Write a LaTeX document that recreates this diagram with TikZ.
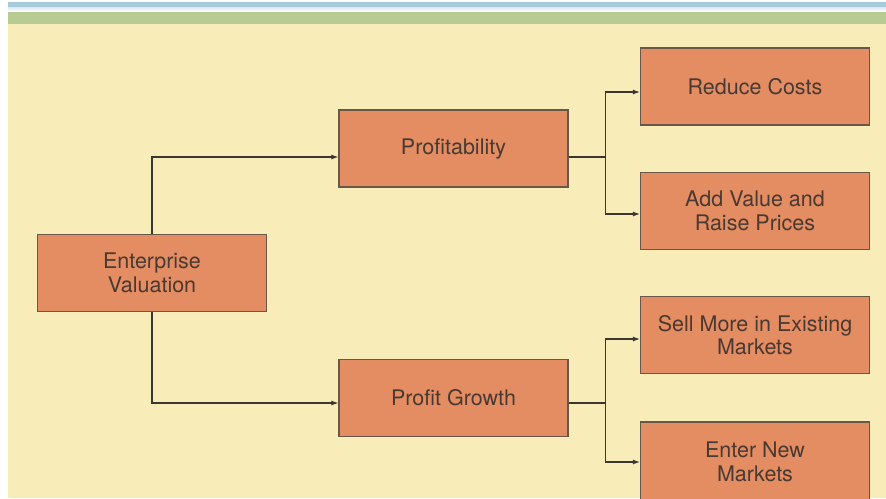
\documentclass[tikz,border=0pt]{standalone}
\usepackage{fontspec}
\setmainfont{TeX Gyre Heros}
\usetikzlibrary{arrows.meta}
\definecolor{cream}{RGB}{248,236,184}
\definecolor{barGreen}{RGB}{183,203,147}
\definecolor{barBlue}{RGB}{168,203,220}
\definecolor{boxFill}{RGB}{228,140,98}
\definecolor{boxLine}{RGB}{105,88,72}
\definecolor{txt}{RGB}{72,58,50}
\definecolor{wire}{RGB}{60,54,48}
\tikzset{
  stepbox/.style={draw=boxLine, line width=1.2pt, fill=boxFill, rectangle, inner sep=0pt,
    minimum width=229pt, minimum height=77pt, align=center, text=txt,
    font=\fontsize{21.5}{23.5}\selectfont},
  wireline/.style={draw=wire, line width=1.1pt},
  arr/.style={wireline, -{Latex[length=7pt,width=5pt]}}
}
\begin{document}
\begin{tikzpicture}[x=1pt,y=-1pt]
\useasboundingbox (0,0) rectangle (886,498);
\fill[white] (0,0) rectangle (886,498);
\shade[top color=barBlue, bottom color=white] (8,2) rectangle (886,11);
\fill[barBlue] (8,2) rectangle (886,7);
\fill[barGreen] (8,12) rectangle (886,23.5);
\fill[cream] (8,23.5) rectangle (886,498);

\node[stepbox] (ev)   at (152,273)   {Enterprise\\Valuation};
\node[stepbox] (prof) at (453.5,148.5) {Profitability};
\node[stepbox] (pg)   at (453.5,398) {Profit Growth};
\node[stepbox] (rc)   at (755,86.5)  {Reduce Costs};
\node[stepbox] (av)   at (755,211)   {Add Value and\\Raise Prices};
\node[stepbox] (sm)   at (755,335)   {Sell More in Existing\\Markets};
\node[stepbox, minimum height=80pt] (en) at (755,462) {Enter New\\Markets};

\draw[arr] (ev.north) |- ([yshift=-8.5pt]prof.west);
\draw[arr] (ev.south) |- ([yshift=-5pt]pg.west);

\draw[wireline] ([yshift=-8.5pt]prof.east) -- ++(37,0) coordinate (j1);
\draw[arr] (j1) |- ([yshift=-5.5pt]rc.west);
\draw[arr] (j1) |- ([yshift=-3pt]av.west);

\draw[wireline] ([yshift=-5pt]pg.east) -- ++(37,0) coordinate (j2);
\draw[arr] (j2) |- ([yshift=-4pt]sm.west);
\draw[arr] (j2) |- (en.west);
\end{tikzpicture}
\end{document}
